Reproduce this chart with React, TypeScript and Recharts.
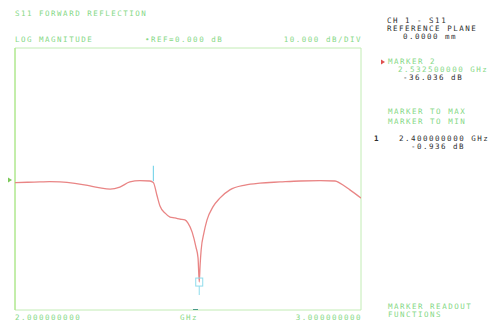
import React from 'react';
import {
    ComposedChart,
    Line,
    XAxis,
    YAxis,
    ReferenceArea,
    ReferenceLine,
    ReferenceDot,
} from 'recharts';

// sweep points, GHz
const freqGHz = [
    2.0, 2.036, 2.072, 2.1, 2.13, 2.173, 2.21, 2.246, 2.275, 2.303, 2.332, 2.361, 2.39, 2.4,
    2.41, 2.419, 2.434, 2.448, 2.462, 2.477, 2.491, 2.5, 2.512, 2.523, 2.529, 2.5325,
    2.535, 2.538, 2.546, 2.555, 2.572, 2.592, 2.621, 2.665, 2.708, 2.766, 2.824, 2.882,
    2.925, 2.939, 2.968, 3.0,
];
// S11 log magnitude, dB
const s11dB = [
    -0.95, -0.8, -0.7, -0.6, -0.7, -1.2, -1.9, -2.8, -3.2, -2.5, -0.7, -0.25, -0.35, -0.94,
    -5.3, -9.2, -11.7, -13.1, -13.4, -13.8, -14.1, -15.2, -18.4, -23.7, -27.5, -36.04,
    -30, -24.7, -18.7, -14.1, -9.5, -6.4, -3.5, -1.8, -1.1, -0.7, -0.35, -0.25,
    -0.35, -1.1, -3.5, -6.4,
];

const marker1 = { f: 2.4, db: -0.936 };
const marker2 = { f: 2.5325, db: -36.036 };

const data = freqGHz.map((f, i) => ({ f, db: s11dB[i] }));

const GREEN = '#86d886';
const DARK = '#2e2e2e';
const font = { fontFamily: '"DejaVu Sans Mono", monospace', fontSize: 7.5, letterSpacing: 1.5 };

const MarkerBox = (props: any) => {
    const { cx, cy } = props;
    return (
        <g>
            <rect x={cx - 3.5} y={cy - 4} width={7} height={8} fill="none" stroke="#8fdcec" strokeWidth={1} />
            <line x1={cx} x2={cx} y1={cy + 4} y2={cy + 13} stroke="#8fdcec" strokeWidth={1} />
        </g>
    );
};

const RefArrow = (props: any) => {
    const { cx, cy } = props;
    return <path d={`M${cx - 7},${cy - 2.5} L${cx - 3},${cy} L${cx - 7},${cy + 2.5} Z`} fill="#7cc95a" />;
};

export default function App() {
    return (
        <div style={{ position: 'fixed', left: 0, top: 0, width: 496, height: 327, background: '#fff' }}>
            <ComposedChart
                width={496}
                height={327}
                data={data}
                margin={{ top: 48, right: 135, left: 15, bottom: 17 }}
            >
                <XAxis dataKey="f" type="number" domain={[2, 3]} hide allowDataOverflow />
                <YAxis type="number" domain={[-45.9, 46.6]} hide allowDataOverflow />
                <ReferenceArea x1={2} x2={3} y1={-45.9} y2={46.6} fill="none" stroke="#c2ecb4" strokeWidth={1} />
                <ReferenceLine x={2} stroke="#a6e67c" strokeWidth={1} />
                <Line
                    dataKey="db"
                    type="monotone"
                    stroke="#e98585"
                    strokeWidth={1.3}
                    dot={false}
                    isAnimationActive={false}
                />
                <ReferenceLine
                    segment={[{ x: marker1.f, y: marker1.db + 0.5 }, { x: marker1.f, y: 5 }]}
                    stroke="#7fd6ea"
                    strokeWidth={1.2}
                />
                <ReferenceDot x={marker2.f} y={marker2.db} shape={MarkerBox} ifOverflow="visible" />
                <ReferenceDot x={2} y={0} shape={RefArrow} ifOverflow="visible" />
            </ComposedChart>
            <svg width={496} height={327} style={{ position: 'absolute', left: 0, top: 0, pointerEvents: 'none' }}>
                <g style={font} fill={GREEN}>
                    <text x={15} y={16}>S11 FORWARD REFLECTION</text>
                    <text x={15} y={42}>LOG MAGNITUDE</text>
                    <text x={145} y={42}>•REF=0.000 dB</text>
                    <text x={362} y={42} textAnchor="end">10.000 dB/DIV</text>
                    <text x={15} y={320}>2.000000000</text>
                    <text x={189} y={320} textAnchor="middle">GHz</text>
                    <text x={362} y={320} textAnchor="end">3.000000000</text>
                    <text x={388} y={64}>MARKER 2</text>
                    <text x={398} y={72}>2.532500000 GHz</text>
                    <text x={388} y={114}>MARKER TO MAX</text>
                    <text x={388} y={124}>MARKER TO MIN</text>
                    <text x={388} y={309}>MARKER READOUT</text>
                    <text x={388} y={317}>FUNCTIONS</text>
                </g>
                <g style={font} fill={DARK}>
                    <text x={387} y={23}>CH 1 - S11</text>
                    <text x={387} y={31}>REFERENCE PLANE</text>
                    <text x={403} y={39}>0.0000 mm</text>
                    <text x={403} y={80}>-36.036 dB</text>
                    <text x={374} y={141} fontWeight="bold">1</text>
                    <text x={399} y={141}>2.400000000 GHz</text>
                    <text x={411} y={149}>-0.936 dB</text>
                </g>
                <path d="M381,59.5 L385,62 L381,64.5 Z" fill="#e05050" />
                <line x1={193} x2={198} y1={309.5} y2={309.5} stroke="#4a9a8a" strokeWidth={1} />
            </svg>
        </div>
    );
}
